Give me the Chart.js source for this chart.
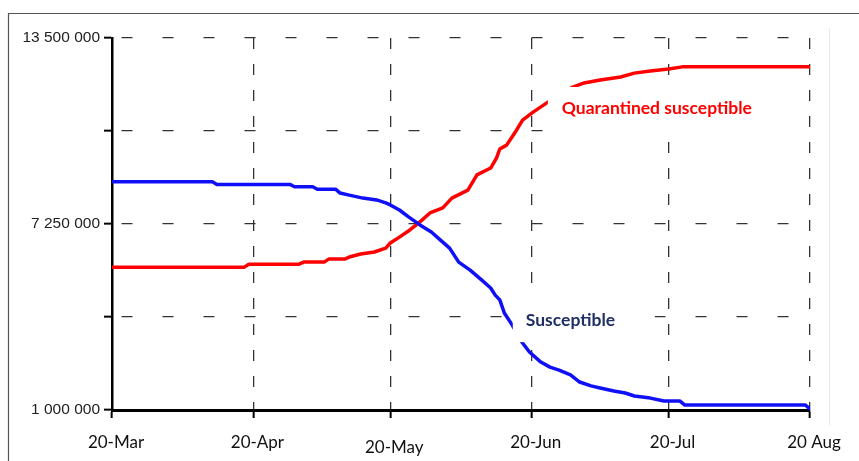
<!DOCTYPE html>
<html lang="en">
<head>
    <meta charset="UTF-8">
    <title>Susceptible vs quarantined susceptible</title>
    <script src="https://cdn.jsdelivr.net/npm/chart.js@4.4.0/dist/chart.umd.min.js"></script>
    <style>
        body { margin: 0; background: #fff; }
        #chart { display: block; }
    </style>
</head>
<body>
    <canvas id="chart" width="859" height="461"></canvas>

    <script>
        // days counted from 20-Mar
        const monthDays = [0, 31, 61, 92, 122, 153];
        const monthLabels = ['20-Mar', '20-Apr', '20-May', '20-Jun', '20-Jul', '20 Aug'];

        const yTicks = [1000000, 4125000, 7250000, 10375000, 13500000];
        const yLabels = ['1 000 000', '', '7 250 000', '', '13 500 000'];

        // Susceptible (millions)
        const susDays = [0, 22, 23, 39, 40, 44, 45, 49, 50, 52, 55, 58, 60, 61, 63, 65, 67.5, 70, 72, 74,
            76, 78.5, 81, 83, 84, 85, 86, 87.7, 90, 91.5, 94, 96, 98, 100.5, 102.5, 105, 107, 110, 112.5, 114.5,
            118, 121, 124.5, 125.5, 152, 153];
        const susValues = [8.67, 8.67, 8.58, 8.58, 8.50, 8.50, 8.42, 8.42, 8.29, 8.22, 8.12, 8.06, 7.96, 7.89, 7.72, 7.49, 7.22, 6.98, 6.71, 6.44,
            5.97, 5.70, 5.37, 5.10, 4.86, 4.70, 4.26, 3.86, 3.25, 2.95, 2.61, 2.44, 2.34, 2.18, 1.94, 1.81, 1.74, 1.64, 1.57, 1.47,
            1.40, 1.30, 1.30, 1.17, 1.17, 1.03];

        // Quarantined susceptible (millions)
        const quarDays = [0, 29, 30, 41, 42, 46.5, 47.5, 51, 52, 54.5, 57.5, 60, 61, 63, 65.3, 67.5, 69.7, 72.5, 74.5, 78,
            80, 83, 84.3, 85, 86.5, 88.7, 90, 92.3, 95.3, 98, 101, 103.5, 107, 111.5, 114.5, 118, 122, 125, 153];
        const quarValues = [5.80, 5.80, 5.90, 5.90, 5.97, 5.97, 6.07, 6.07, 6.14, 6.24, 6.31, 6.44, 6.61, 6.81, 7.05, 7.32, 7.62, 7.79, 8.12, 8.39,
            8.90, 9.13, 9.47, 9.77, 9.90, 10.41, 10.74, 11.01, 11.32, 11.60, 11.85, 11.99, 12.09, 12.19, 12.32, 12.39, 12.46, 12.53, 12.53];

        // series labels placed on the plot
        const noteTexts = ['Quarantined susceptible', 'Susceptible'];
        const noteDays = [98.6, 90.7];
        const noteValues = [11150000, 4020000];
        const noteColors = ['#ff0000', '#1f2f66'];

        function toPoints(days, vals) {
            return days.map((d, i) => ({ x: d, y: vals[i] * 1000000 }));
        }

        // outer frame like the pasted figure
        const framePlugin = {
            id: 'frame',
            beforeDraw(chart) {
                const ctx = chart.ctx;
                ctx.save();
                ctx.fillStyle = '#fff';
                ctx.fillRect(0, 0, chart.width, chart.height);
                ctx.strokeStyle = '#555';
                ctx.lineWidth = 1.2;
                ctx.beginPath();
                ctx.moveTo(8.5, chart.height);
                ctx.lineTo(8.5, 13.5);
                ctx.lineTo(chart.width, 13.5);
                ctx.stroke();
                ctx.strokeStyle = '#e8e8e8';
                ctx.lineWidth = 1;
                ctx.beginPath();
                ctx.moveTo(829.5, 28);
                ctx.lineTo(829.5, 425);
                ctx.stroke();
                ctx.restore();
            }
        };

        // text labels with white boxes that cover the lines behind them
        const notePlugin = {
            id: 'notes',
            afterDatasetsDraw(chart) {
                const ctx = chart.ctx;
                const boxes = [[14, 243, 21, 25], [13, 129, 28, 22]]; // left, right, up, down
                ctx.save();
                noteTexts.forEach((t, i) => {
                    const x = chart.scales.x.getPixelForValue(noteDays[i]);
                    const y = chart.scales.y.getPixelForValue(noteValues[i]);
                    const b = boxes[i];
                    ctx.fillStyle = '#fff';
                    ctx.fillRect(x - b[0], y - b[2], b[0] + b[1], b[2] + b[3]);
                    ctx.fillStyle = noteColors[i];
                    ctx.font = 'bold 17.5px Lato';
                    ctx.textBaseline = 'middle';
                    ctx.textAlign = 'left';
                    ctx.fillText(t, x, y);
                });
                ctx.restore();
            }
        };

        new Chart(document.getElementById('chart'), {
            type: 'line',
            data: {
                datasets: [
                    {
                        label: 'Susceptible',
                        data: toPoints(susDays, susValues),
                        borderColor: '#1010f8',
                        borderWidth: 3.5
                    },
                    {
                        label: 'Quarantined susceptible',
                        data: toPoints(quarDays, quarValues),
                        borderColor: '#ff0000',
                        borderWidth: 3.5
                    }
                ]
            },
            options: {
                responsive: false,
                animation: false,
                layout: { padding: { left: 0, top: 38, right: 49, bottom: 0 } },
                elements: {
                    point: { radius: 0 },
                    line: { tension: 0, borderJoinStyle: 'round', borderCapStyle: 'round' }
                },
                plugins: {
                    legend: { display: false },
                    tooltip: { enabled: false }
                },
                scales: {
                    x: {
                        type: 'linear',
                        min: 0,
                        max: 153,
                        afterBuildTicks(scale) {
                            scale.ticks = monthDays.map(v => ({ value: v }));
                        },
                        afterFit(scale) {
                            scale.height = 51;
                        },
                        ticks: {
                            autoSkip: false,
                            maxRotation: 0,
                            padding: 14,
                            labelOffset: 4,
                            color: '#111',
                            font: (c) => ({ family: 'Lato', size: 17, lineHeight: c.index === 2 ? 1.8 : 1.2 }),
                            callback: (v) => monthLabels[monthDays.indexOf(v)]
                        },
                        grid: {
                            color: '#333',
                            lineWidth: 1.3,
                            tickColor: '#000',
                            tickWidth: 2,
                            tickLength: 8
                        },
                        border: { color: '#000', width: 3, dash: [11, 15] }
                    },
                    y: {
                        min: 1000000,
                        max: 13500000,
                        afterBuildTicks(scale) {
                            scale.ticks = yTicks.map(v => ({ value: v }));
                        },
                        afterFit(scale) {
                            scale.width = 112;
                        },
                        ticks: {
                            padding: 4,
                            color: '#222',
                            font: { family: 'Liberation Sans', size: 15.5 },
                            callback: (v) => yLabels[yTicks.indexOf(v)]
                        },
                        grid: {
                            color: '#333',
                            lineWidth: 1.3,
                            tickColor: '#000',
                            tickWidth: 2,
                            tickLength: 8
                        },
                        border: { color: '#000', width: 2.5, dash: [11, 30], dashOffset: -8 }
                    }
                }
            },
            plugins: [framePlugin, notePlugin]
        });
    </script>
</body>
</html>
